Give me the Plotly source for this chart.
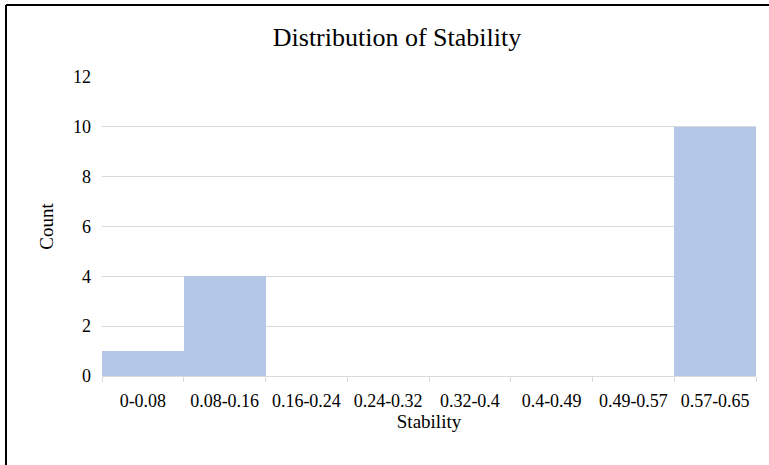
import plotly.graph_objects as go

# Data
bins = ["0-0.08", "0.08-0.16", "0.16-0.24", "0.24-0.32", "0.32-0.4", "0.4-0.49", "0.49-0.57", "0.57-0.65"]
counts = [1, 4, 0, 0, 0, 0, 0, 10]

serif = "Liberation Serif, Times New Roman, serif"

fig = go.Figure(go.Bar(
    x=bins,
    y=counts,
    marker=dict(color="#B4C7E7", line=dict(width=0)),
))

fig.update_layout(
    width=769, height=465,
    margin=dict(l=102, r=13, t=77, b=89),
    paper_bgcolor="white",
    plot_bgcolor="white",
    bargap=0,
    showlegend=False,
    font=dict(family=serif, size=18, color="black"),
    title=dict(text="Distribution of Stability", x=397 / 769, xanchor="center",
               y=1 - 37 / 465, yanchor="middle", font=dict(size=26, family=serif, color="black")),
)

fig.update_xaxes(
    type="category",
    showline=True, linecolor="#D9D9D9", linewidth=1,
    ticks="outside", tickson="boundaries", ticklen=5, tickcolor="#D9D9D9",
    showgrid=False,
    tickfont=dict(size=18),
    ticklabelstandoff=8,
    title=dict(text="Stability", font=dict(size=19), standoff=3),
)

fig.update_yaxes(
    range=[0, 12], dtick=2,
    showgrid=True, gridcolor="#D9D9D9", gridwidth=1,
    zeroline=False, showline=False,
    tickfont=dict(size=18),
    ticklabelstandoff=10,
    title=dict(text="Count", font=dict(size=19), standoff=14),
)

# outer chart border: only the left and top edges show in the crop
bx = (6 - 102) / 654
by = 1 + (77 - 5) / 299
fig.add_shape(type="line", xref="paper", yref="paper", x0=bx, x1=bx, y0=-0.6, y1=by,
              line=dict(color="black", width=2), layer="above")
fig.add_shape(type="line", xref="paper", yref="paper", x0=bx, x1=1.3, y0=by, y1=by,
              line=dict(color="black", width=2), layer="above")

fig.write_html("out.html", config={"displayModeBar": False},
               post_script="document.body.style.margin='0';document.body.style.overflow='hidden';")
